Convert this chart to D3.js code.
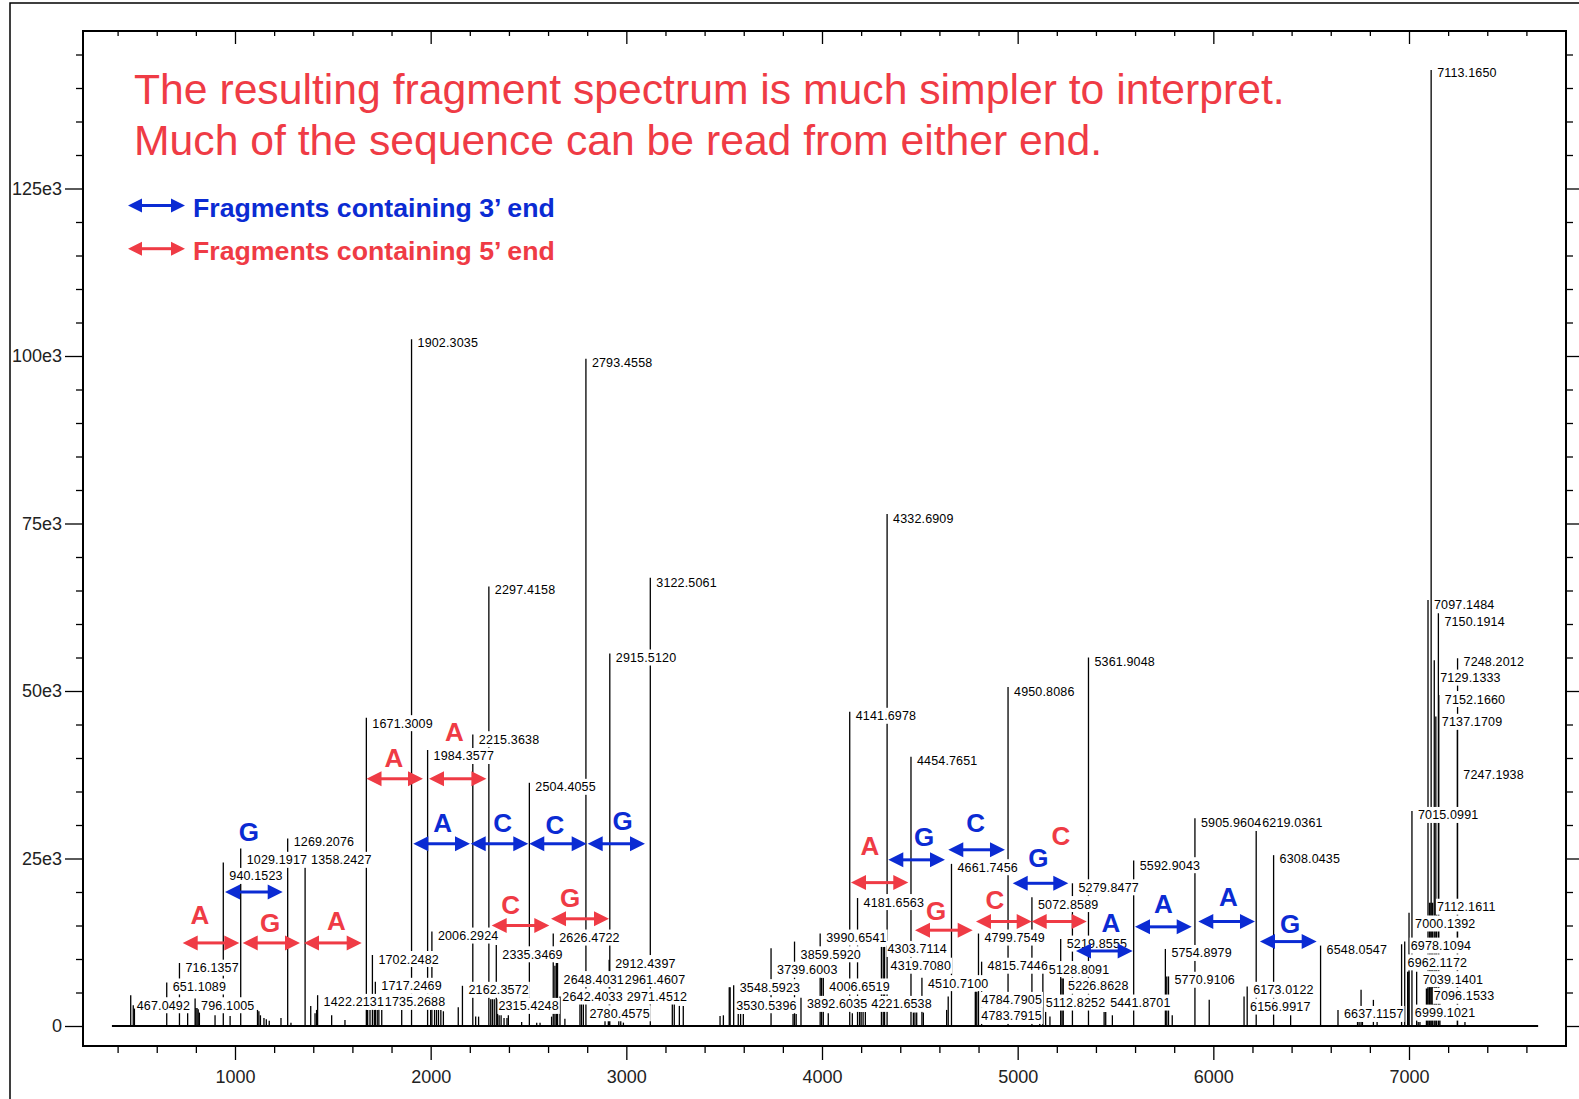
<!DOCTYPE html>
<html>
<head>
<meta charset="UTF-8">
<title>Fragment spectrum</title>
<style>
  body { margin: 0; background: #fff; }
  svg { display: block; }
  .tick text { font-family: "Liberation Sans", Arial, sans-serif; font-size: 18px; fill: #222; }
  .tick line { stroke: #000; stroke-width: 1.3px; }
  .stem { stroke: #000; stroke-width: 1.3px; }
  .peak-label { font-family: "Liberation Sans", Arial, sans-serif; font-size: 12.5px; letter-spacing: 0.15px; fill: #000; }
  .base-letter { font-family: "Liberation Sans", Arial, sans-serif; font-size: 26px; font-weight: bold; }
</style>
</head>
<body>
<script src="https://d3js.org/d3.v7.min.js"></script>
<script>

// ---- data (m/z, intensity in thousands of counts) ----
var titleLines = [
    "The resulting fragment spectrum is much simpler to interpret.",
    "Much of the sequence can be read from either end."
];
var legendLabels = ["Fragments containing 3\u2019 end", "Fragments containing 5\u2019 end"];

var peakMz = [467.05, 480, 486, 651.11, 716.14, 758, 796.10, 800, 806, 812, 818, 898, 940.15, 975,
    1029.19, 1115, 1122, 1130, 1148, 1160, 1175, 1235, 1269.21, 1286, 1358.24, 1387, 1409, 1417, 1422.21,
    1494, 1562, 1671.30, 1678, 1690, 1702.25, 1712, 1717.25, 1727, 1735.27, 1750, 1852, 1902.30, 1984.36,
    2000, 2006.29, 2020, 2030, 2040, 2052, 2065, 2141, 2162.36, 2215.36, 2230, 2245, 2297.42, 2307, 2315.42,
    2325, 2335.35, 2342, 2350, 2360, 2375, 2390, 2397, 2465, 2504.41, 2542, 2559, 2618, 2626.47, 2635,
    2642.40, 2648.40, 2661, 2686, 2763, 2771, 2780.46, 2793.46, 2891, 2908, 2912.44, 2915.51, 2961.46,
    2971.45, 2985, 3122.51, 3235, 3245, 3271, 3291, 3479, 3496, 3526, 3530.54, 3548.59, 3572, 3584, 3598,
    3739.60, 3852, 3859.59, 3868, 3892.60, 3990.65, 3998, 4006.65, 4032, 4141.70, 4155, 4181.66, 4192,
    4200, 4210, 4221.65, 4303.71, 4313, 4319.71, 4332.69, 4454.77, 4467, 4475, 4484, 4510.71, 4518, 4637,
    4645, 4661.75, 4783.79, 4784.79, 4791, 4799.75, 4815.74, 4950.81, 5072.86, 5112.83, 5128.81, 5143,
    5165, 5219.86, 5226.86, 5233, 5279.85, 5361.90, 5441.87, 5450, 5484, 5592.90, 5754.90, 5762, 5770.91,
    5790, 5905.96, 5979, 6156.99, 6173.01, 6219.04, 6308.04, 6395, 6548.05, 6637.12, 6737, 6745, 6755,
    6762, 6818, 6837, 6962.12, 6978.11, 6993, 6999.10, 7000.14, 7015.10, 7039.14, 7047, 7056, 7089,
    7096.15, 7097.15, 7105, 7112.16, 7113.17, 7121, 7129.13, 7137.17, 7141, 7150.19, 7152.17, 7158,
    7247.19, 7248.20, 7286];
var peakInt = [4.6, 3.1, 2.6, 6.5, 9.4, 2.0, 4.1, 2.7, 2.7, 2.5, 2.0, 1.6, 24.4, 1.5,
    26.5, 2.4, 2.2, 1.6, 1.2, 1.0, 0.8, 1.2, 28.0, 0.5, 25.2, 3.0, 1.9, 2.4, 4.6,
    1.6, 0.9, 46.0, 2.4, 2.4, 10.6, 2.4, 6.6, 2.4, 4.1, 2.4, 2.4, 102.5, 41.2,
    2.4, 14.1, 2.4, 2.4, 2.4, 2.4, 2.2, 2.8, 6.0, 43.5, 1.4, 1.4, 65.6, 4.0, 4.0,
    4.0, 12.1, 4.0, 1.6, 1.6, 1.2, 1.2, 1.6, 0.6, 36.3, 0.5, 0.5, 1.4, 13.8, 9.0,
    9.4, 9.4, 4.4, 1.1, 4.4, 4.4, 4.4, 99.6, 1.0, 1.0, 9.9, 55.6, 1.0,
    1.0, 0.5, 66.9, 3.4, 3.4, 3.0, 3.0, 1.5, 1.6, 5.8, 5.8, 6.1, 1.8, 1.8, 1.8,
    11.6, 1.8, 12.6, 1.8, 4.2, 13.8, 7.2, 7.2, 1.9, 46.9, 1.9, 19.1, 2.1,
    2.1, 2.1, 2.1, 11.8, 11.8, 11.8, 76.4, 40.2, 2.0, 2.0, 2.0, 7.2, 2.0, 2.4,
    4.4, 24.2, 5.1, 5.1, 5.1, 13.8, 9.6, 50.6, 19.2, 3.0, 7.9, 2.1,
    1.4, 13.0, 7.1, 7.1, 21.3, 55.0, 2.1, 2.1, 1.6, 24.7, 11.5, 7.4, 7.4,
    1.6, 31.0, 3.9, 4.4, 5.9, 29.2, 25.5, 1.6, 12.0, 2.4, 0.6, 0.6, 5.4,
    0.6, 3.9, 0.6, 12.2, 12.6, 8.1, 8.1, 16.9, 32.1, 8.1, 0.6, 0.6, 5.6,
    5.6, 63.6, 18.4, 18.4, 142.7, 18.4, 54.6, 46.2, 18.4, 61.6, 49.4, 5.6,
    44.2, 54.9, 0.6];

// peak annotations: text is the m/z, level is where the label sits (thousands of counts)
var labelText = ["467.0492", "651.1089", "716.1357", "796.1005", "940.1523", "1029.1917", "1269.2076",
    "1358.2427", "1422.2131", "1671.3009", "1702.2482", "1717.2469", "1735.2688", "1902.3035", "1984.3577",
    "2006.2924", "2162.3572", "2215.3638", "2297.4158", "2315.4248", "2335.3469", "2504.4055", "2626.4722",
    "2642.4033", "2648.4031", "2780.4575", "2793.4558", "2912.4397", "2915.5120", "2961.4607", "2971.4512",
    "3122.5061", "3530.5396", "3548.5923", "3739.6003", "3859.5920", "3892.6035", "3990.6541", "4006.6519",
    "4141.6978", "4181.6563", "4221.6538", "4303.7114", "4319.7080", "4332.6909", "4454.7651", "4510.7100",
    "4661.7456", "4783.7915", "4784.7905", "4799.7549", "4815.7446", "4950.8086", "5072.8589", "5112.8252",
    "5128.8091", "5219.8555", "5226.8628", "5279.8477", "5361.9048", "5441.8701", "5592.9043", "5754.8979",
    "5770.9106", "5905.9604", "6156.9917", "6173.0122", "6219.0361", "6308.0435", "6548.0547", "6637.1157",
    "6962.1172", "6978.1094", "6999.1021", "7000.1392", "7015.0991", "7039.1401", "7096.1533", "7097.1484",
    "7112.1611", "7113.1650", "7129.1333", "7137.1709", "7150.1914", "7152.1660", "7247.1938", "7248.2012"];
var labelLevel = [3.1, 5.9, 8.7, 3.1, 22.4, 24.8, 27.5,
    24.8, 3.6, 45.2, 10.0, 6.0, 3.6, 102.0, 40.3,
    13.5, 5.4, 42.8, 65.1, 3.0, 10.7, 35.7, 13.2,
    4.4, 7.0, 1.9, 99.1, 9.4, 55.0, 7.0, 4.4,
    66.2, 3.1, 5.8, 8.4, 10.7, 3.3, 13.2, 5.9,
    46.3, 18.5, 3.3, 11.5, 9.0, 75.8, 39.6, 6.4,
    23.7, 1.5, 3.9, 13.2, 9.0, 50.0, 18.2, 3.5,
    8.5, 12.3, 6.0, 20.7, 54.4, 3.5, 24.0, 10.9,
    6.9, 30.3, 2.9, 5.4, 30.3, 25.0, 11.4, 1.8,
    9.5, 12.0, 2.0, 15.3, 31.5, 7.0, 4.5, 62.9,
    17.8, 142.3, 52.0, 45.4, 60.4, 48.8, 37.6, 54.4];

// sequence ladder: mass differences between fragments, 5' series (red) then 3' series (blue)
var stepFrom = [732.7, 1039.4, 1352.6, 1672.1, 1991.5, 2311.9, 2615.0, 4148.2, 4475.3, 4787.0, 5071.7,
    948.9, 1911.2, 2204.6, 2504.0, 2802.5, 4338.8, 4645.4, 4974.6, 5298.0, 5599.6, 5923.1, 6238.4];
var stepTo = [1022.0, 1332.2, 1647.5, 1960.8, 2284.8, 2606.3, 2911.4, 4441.0, 4770.2, 5071.7, 5352.8,
    1243.8, 2201.0, 2498.9, 2797.4, 3095.4, 4628.6, 4935.2, 5258.7, 5587.8, 5889.4, 6212.9, 6528.2];
var stepLevel = [12.4, 12.4, 12.4, 36.9, 36.9, 15.0, 16.0, 21.4, 14.3, 15.6, 15.6,
    20.0, 27.2, 27.2, 27.2, 27.2, 24.8, 26.3, 21.3, 11.2, 14.8, 15.6, 12.6];
var stepEnd = ["5'", "5'", "5'", "5'", "5'", "5'", "5'", "5'", "5'", "5'", "5'",
    "3'", "3'", "3'", "3'", "3'", "3'", "3'", "3'", "3'", "3'", "3'", "3'"];
var stepBase = ["A", "G", "A", "A", "A", "C", "G", "A", "G", "C", "C",
    "G", "A", "C", "C", "G", "G", "C", "G", "A", "A", "A", "G"];
var baseMz = [821.1, 1178.9, 1518.7, 1812.6, 2121.8, 2409.0, 2712.1, 4245.3, 4582.6, 4884.1, 5221.4,
    1071.5, 2061.5, 2368.1, 2635.4, 2981.4, 4521.3, 4785.5, 5105.4, 5477.0, 5744.3, 6076.5, 6391.8];
var baseLevel = [16.6, 15.4, 15.7, 40.1, 44.0, 18.1, 19.1, 26.9, 17.2, 18.8, 28.4,
    29.0, 30.4, 30.3, 30.0, 30.6, 28.2, 30.4, 25.1, 15.4, 18.3, 19.3, 15.3];

// ---- layout ----
var width = 1579, height = 1099;
var frame = {left: 83, right: 1566, top: 31, bottom: 1046};
var red = "#ef3b45", blue = "#0b2bd3";
var endColor = {"5'": red, "3'": blue};

var x = d3.scaleLinear().domain([1000, 7000]).range([235, 1409]);
var y = d3.scaleLinear().domain([0, 125]).range([1026, 188.5]);

var svg = d3.select("body").append("svg")
    .attr("width", width)
    .attr("height", height);

// outer slide border
svg.append("path")
    .attr("d", "M10," + height + " V3 H" + width)
    .attr("fill", "none")
    .attr("stroke", "#000")
    .attr("stroke-width", 1.5);

// axes (ticks only, frame drawn as a rect)
var majorY = d3.range(0, 126, 25),
    minorY = d3.range(0, 146, 5).filter(function (v) { return v % 25; });
var majorX = d3.range(1000, 7001, 1000),
    minorX = d3.range(400, 7601, 200).filter(function (v) { return v % 1000; });

function addAxis(axis, tx, ty) {
    var g = svg.append("g")
        .attr("transform", "translate(" + tx + "," + ty + ")")
        .call(axis);
    g.select(".domain").remove();
    return g;
}

addAxis(d3.axisLeft(y).tickValues(majorY).tickSize(18).tickPadding(3)
    .tickFormat(function (d) { return d === 0 ? "0" : d + "e3"; }), frame.left, 0);
addAxis(d3.axisLeft(y).tickValues(minorY).tickSize(7).tickFormat(""), frame.left, 0);
addAxis(d3.axisRight(y).tickValues(majorY).tickSize(13).tickFormat(""), frame.right, 0);
addAxis(d3.axisRight(y).tickValues(minorY).tickSize(7).tickFormat(""), frame.right, 0);
addAxis(d3.axisBottom(x).tickValues(majorX).tickSize(14).tickPadding(10)
    .tickFormat(d3.format("d")), 0, frame.bottom);
addAxis(d3.axisBottom(x).tickValues(minorX).tickSize(7).tickFormat(""), 0, frame.bottom);
addAxis(d3.axisTop(x).tickValues(majorX).tickSize(-13).tickFormat(""), 0, frame.top);
addAxis(d3.axisTop(x).tickValues(minorX).tickSize(-5).tickFormat(""), 0, frame.top);

svg.append("rect")
    .attr("x", frame.left)
    .attr("y", frame.top)
    .attr("width", frame.right - frame.left)
    .attr("height", frame.bottom - frame.top)
    .attr("fill", "none")
    .attr("stroke", "#000")
    .attr("stroke-width", 2);

// spectrum baseline
svg.append("line")
    .attr("x1", x(371)).attr("x2", x(7660))
    .attr("y1", y(0)).attr("y2", y(0))
    .attr("stroke", "#000")
    .attr("stroke-width", 1.8);

// stems
svg.append("g").selectAll("line")
    .data(d3.range(peakMz.length))
    .join("line")
    .attr("class", "stem")
    .attr("x1", function (i) { return x(peakMz[i]); })
    .attr("x2", function (i) { return x(peakMz[i]); })
    .attr("y1", y(0))
    .attr("y2", function (i) { return y(peakInt[i]); });

// peak labels on white boxes (they break the lines behind them)
var labels = svg.append("g").selectAll("g")
    .data(d3.range(labelText.length))
    .join("g")
    .attr("transform", function (i) {
        return "translate(" + (x(+labelText[i]) + 6) + "," + y(labelLevel[i]) + ")";
    });
var boxes = labels.append("rect").attr("fill", "#fff");
var texts = labels.append("text")
    .attr("class", "peak-label")
    .attr("y", 4.5)
    .text(function (i) { return labelText[i]; });
texts.each(function (i) {
    var w = this.getComputedTextLength();
    d3.select(this.parentNode).select("rect")
        .attr("x", -1).attr("y", -8)
        .attr("width", w + 2).attr("height", 16);
});

// double headed arrows
function arrow(g, x1, x2, yy, color, hl, hw) {
    g.append("line")
        .attr("x1", x1 + hl - 1).attr("x2", x2 - hl + 1)
        .attr("y1", yy).attr("y2", yy)
        .attr("stroke", color)
        .attr("stroke-width", 3);
    g.append("path")
        .attr("d", "M" + x1 + "," + yy + "L" + (x1 + hl) + "," + (yy - hw) + "L" + (x1 + hl) + "," + (yy + hw) + "Z"
            + "M" + x2 + "," + yy + "L" + (x2 - hl) + "," + (yy - hw) + "L" + (x2 - hl) + "," + (yy + hw) + "Z")
        .attr("fill", color);
}

var steps = svg.append("g");
d3.range(stepFrom.length).forEach(function (i) {
    var c = endColor[stepEnd[i]];
    arrow(steps, x(stepFrom[i]), x(stepTo[i]), y(stepLevel[i]), c, 15, 7.5);
    steps.append("text")
        .attr("class", "base-letter")
        .attr("x", x(baseMz[i]))
        .attr("y", y(baseLevel[i]) + 9.3)
        .attr("text-anchor", "middle")
        .attr("fill", c)
        .text(stepBase[i]);
});

// title
svg.append("g").selectAll("text")
    .data(titleLines)
    .join("text")
    .attr("x", 134)
    .attr("y", function (d, i) { return 104 + i * 50.5; })
    .attr("fill", red)
    .style("font-family", "'Liberation Sans', Arial, sans-serif")
    .style("font-size", "42.7px")
    .text(function (d) { return d; });

// legend
var legend = svg.append("g");
[["3'", 205.5], ["5'", 248.7]].forEach(function (e, i) {
    var c = endColor[e[0]];
    arrow(legend, 128, 185, e[1], c, 14, 7);
    legend.append("text")
        .attr("x", 193)
        .attr("y", e[1] + 11)
        .attr("fill", c)
        .style("font-family", "'Liberation Sans', Arial, sans-serif")
        .style("font-size", "26.7px")
        .style("font-weight", "bold")
        .text(legendLabels[i]);
});

</script>
</body>
</html>
